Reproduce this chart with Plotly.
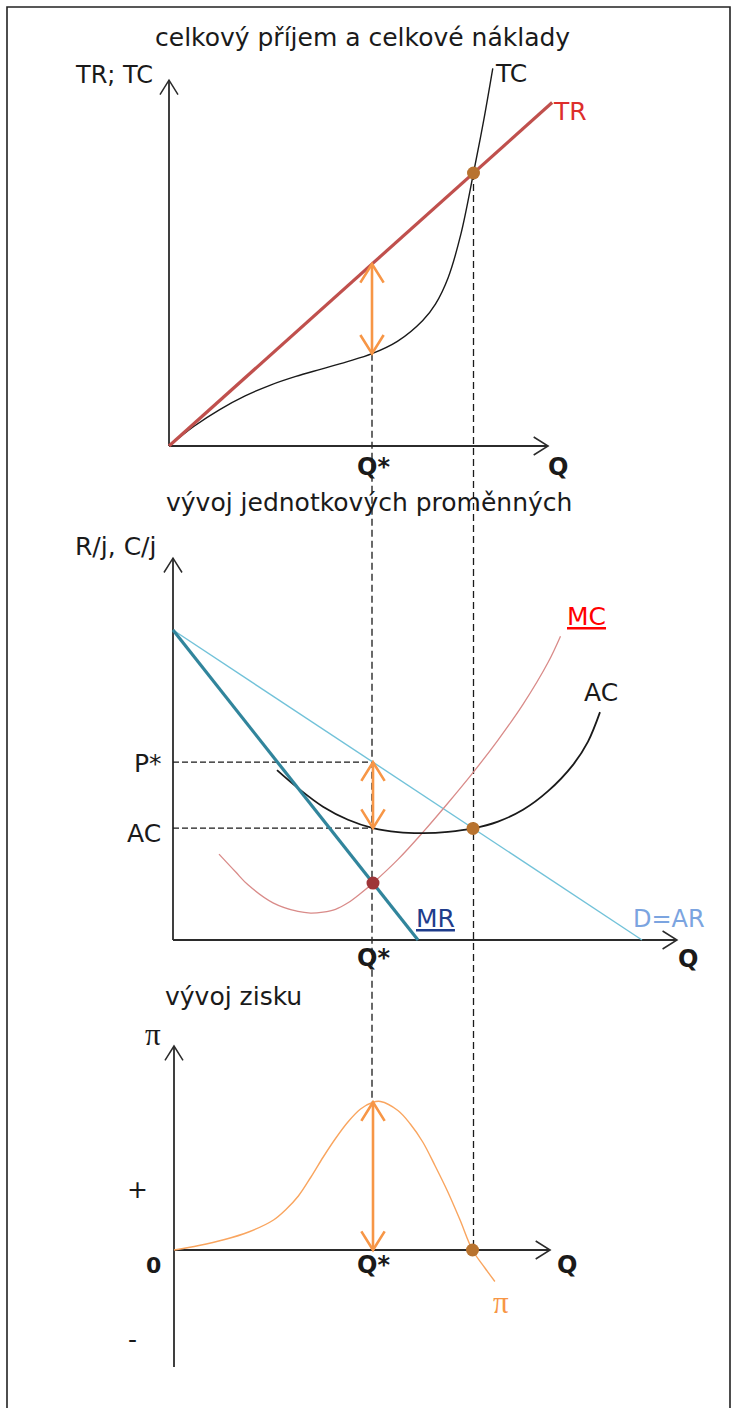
import math
import plotly.graph_objects as go

W, H = 731, 1408

# ---------------- data ----------------
# total revenue and total cost (upper panel)
q_tr = [0, 7.55]
tr = [0, 75.5]
q_tc = [0, 0.5, 1, 1.5, 2, 2.5, 3, 3.5, 4, 4.5, 5, 5.25, 5.5, 5.75, 6, 6.2, 6.38]
tc = [0, 4.4, 8.0, 11.0, 13.4, 15.3, 16.9, 18.5, 20.3, 23.0, 27.6, 31.2, 37.0, 46.5, 60, 71.5, 83]

# unit revenue / unit cost (middle panel)
q_d = [0, 9.38]
d_ar = [10, 0]
q_mr = [0, 4.9]
mr = [10, 0]
q_ac = [2.08, 2.5, 3, 3.5, 4, 4.5, 5, 5.5, 6, 6.5, 7, 7.5, 8, 8.3, 8.54]
ac = [5.48, 4.9, 4.3, 3.88, 3.61, 3.48, 3.45, 3.49, 3.60, 3.82, 4.2, 4.8, 5.65, 6.4, 7.35]
q_mc = [0.92, 1.25, 1.5, 2, 2.5, 2.75, 3, 3.25, 3.5, 3.75, 4, 4.5, 5, 5.5, 6, 6.5, 7, 7.5, 7.75]
mc = [2.77, 2.2, 1.78, 1.2, 0.92, 0.87, 0.9, 0.99, 1.2, 1.5, 1.84, 2.6, 3.48, 4.42, 5.4, 6.45, 7.6, 8.95, 9.8]

# profit (lower panel)
q_pi = [0, 0.5, 1, 1.5, 2, 2.25, 2.5, 2.75, 3, 3.25, 3.5, 3.75, 4, 4.15, 4.5, 4.75, 5, 5.25, 5.5, 5.75, 6, 6.25, 6.45]
pi = [0, 0.3, 0.68, 1.2, 2.0, 2.7, 3.6, 4.85, 6.2, 7.45, 8.55, 9.4, 9.85, 9.9, 9.3, 8.4, 7.2, 5.6, 3.9, 2.0, 0, -1.2, -2.1]

Q_STAR = 4      # profit-maximising output
Q_BE = 6        # break-even output


def interp(xs, ys, x):
    for i in range(len(xs) - 1):
        if xs[i] <= x <= xs[i + 1]:
            t = (x - xs[i]) / (xs[i + 1] - xs[i])
            return ys[i] + t * (ys[i + 1] - ys[i])
    return ys[-1]


tc_star = interp(q_tc, tc, Q_STAR)
tr_star = interp(q_tr, tr, Q_STAR)
tr_be = interp(q_tr, tr, Q_BE)
p_star = interp(q_d, d_ar, Q_STAR)
ac_star = interp(q_ac, ac, Q_STAR)
ac_be = interp(q_ac, ac, Q_BE)
mr_star = interp(q_mr, mr, Q_STAR)
pi_star = interp(q_pi, pi, Q_STAR)

# ---------------- panel geometry (origin in px, px per unit) ----------------
PANELS = {
    "top": dict(ox=169, oy=446, kx=50.75, ky=4.55, xa="x", ya="y"),
    "mid": dict(ox=173, oy=940, kx=50.0, ky=31.0, xa="x2", ya="y2"),
    "bot": dict(ox=174, oy=1250, kx=49.75, ky=15.0, xa="x3", ya="y3"),
}
for p in PANELS.values():
    p["xr"] = [-p["ox"] / p["kx"], (W - p["ox"]) / p["kx"]]
    p["yr"] = [-(H - p["oy"]) / p["ky"], p["oy"] / p["ky"]]


def paper_y(panel, v):
    p = PANELS[panel]
    lo, hi = p["yr"]
    return (v - lo) / (hi - lo)


fig = go.Figure()


def line(panel, xs, ys, color, width, shape="linear", dash=None):
    p = PANELS[panel]
    fig.add_trace(go.Scatter(
        x=xs, y=ys, mode="lines", xaxis=p["xa"], yaxis=p["ya"],
        line=dict(color=color, width=width, shape=shape, smoothing=1.0, dash=dash),
        hoverinfo="skip", showlegend=False))


def dot(panel, x, y, color, size=13):
    p = PANELS[panel]
    fig.add_trace(go.Scatter(
        x=[x], y=[y], mode="markers", xaxis=p["xa"], yaxis=p["ya"],
        marker=dict(color=color, size=size), hoverinfo="skip", showlegend=False))


def head(panel, x, y, direction, color, width, length, angle=32):
    """Open V arrowhead whose tip is at (x, y)."""
    p = PANELS[panel]
    a = math.radians(angle)
    along, across = length * math.cos(a), length * math.sin(a)
    if direction in ("up", "down"):
        s = -1 if direction == "up" else 1
        xs = [x - across / p["kx"], x, x + across / p["kx"]]
        ys = [y + s * along / p["ky"], y, y + s * along / p["ky"]]
    else:
        xs = [x - along / p["kx"], x, x - along / p["kx"]]
        ys = [y - across / p["ky"], y, y + across / p["ky"]]
    line(panel, xs, ys, color, width)


def axes(panel, x_end, y_end, y_start=0.0):
    line(panel, [0, 0], [y_start, y_end], AXIS, 1.8)
    line(panel, [0, x_end], [0, 0], AXIS, 1.8)
    head(panel, 0, y_end, "up", AXIS, 1.5, 17)
    head(panel, x_end, 0, "right", AXIS, 1.5, 17)


def double_arrow(panel, x, y_low, y_high):
    line(panel, [x, x], [y_low, y_high], ORANGE, 2.6)
    head(panel, x, y_high, "up", ORANGE, 2.6, 22)
    head(panel, x, y_low, "down", ORANGE, 2.6, 22)


AXIS = "#2b2b2b"
ORANGE = "#F79646"
BROWN = "#B8732F"

# ---------------- upper panel ----------------
axes("top", 7.47, 80.4)
line("top", q_tc, tc, "#1a1a1a", 1.4, shape="spline")
line("top", q_tr, tr, "#C0504D", 3.2)
double_arrow("top", Q_STAR, tc_star, tr_star)
dot("top", Q_BE, tr_be, BROWN)

# ---------------- middle panel ----------------
axes("mid", 10.08, 12.32)
line("mid", [0, Q_STAR], [p_star, p_star], "#1a1a1a", 1.3, dash="6px,3px")
line("mid", [0, Q_STAR], [ac_star, ac_star], "#1a1a1a", 1.3, dash="6px,3px")
line("mid", q_d, d_ar, "#72C2D9", 1.4)
line("mid", q_mc, mc, "#D98B89", 1.3, shape="spline")
line("mid", q_ac, ac, "#1a1a1a", 1.8, shape="spline")
line("mid", q_mr, mr, "#31859C", 3.2)
double_arrow("mid", Q_STAR, ac_star, p_star)
dot("mid", Q_BE, ac_be, BROWN)
dot("mid", Q_STAR, mr_star, "#9E3538")

# ---------------- lower panel ----------------
axes("bot", 7.56, 13.6, y_start=-7.8)
line("bot", q_pi, pi, "#F9A55F", 1.4, shape="spline")
double_arrow("bot", Q_STAR, 0, pi_star)
dot("bot", Q_BE, 0, BROWN)

# ---------------- dashed connectors through the three panels ----------------
shapes = [
    dict(type="line", xref="x", yref="paper", x0=Q_STAR, x1=Q_STAR,
         y0=paper_y("top", tc_star), y1=paper_y("bot", pi_star),
         line=dict(color="#1a1a1a", width=1.3, dash="7px,4px"), layer="below"),
    dict(type="line", xref="x", yref="paper", x0=Q_BE, x1=Q_BE,
         y0=paper_y("top", tr_be), y1=paper_y("bot", 0),
         line=dict(color="#1a1a1a", width=1.3, dash="7px,4px"), layer="below"),
    dict(type="rect", xref="paper", yref="paper", x0=7 / W, x1=730 / W,
         y0=-0.01, y1=1 - 7 / H, line=dict(color="#222222", width=1.6)),
]

# ---------------- text ----------------
FONT = "DejaVu Sans"
annotations = []


def text(s, x, y, size=25, color="#1a1a1a", anchor="center", bold=False, family=FONT):
    if bold:
        s = "<b>" + s + "</b>"
    annotations.append(dict(
        text=s, x=x / W, y=1 - y / H, xref="paper", yref="paper",
        xanchor=anchor, yanchor="middle", showarrow=False,
        font=dict(family=family, size=size, color=color)))


text("celkový příjem a celkové náklady", 362, 38)
text("TR; TC", 155, 75, size=24, anchor="right")
text("TC", 493, 73, anchor="left")
text("TR", 551, 111, color="#DD2E2B", anchor="left")
text("Q*", 373, 467, size=24, bold=True)
text("Q", 558, 467, size=24, bold=True)

text("vývoj jednotkových proměnných", 369, 503)
text("R/j, C/j", 158, 547, anchor="right")
text("P*", 164, 763, anchor="right")
text("AC", 163, 833, anchor="right")
text("<u>MC</u>", 565, 616, color="#FF0000", anchor="left")
text("AC", 582, 692, anchor="left")
text("<u>MR</u>", 414, 918, color="#1F3D8C", anchor="left")
text("D=AR", 631, 919, size=24, color="#7BA4E0", anchor="left")
text("Q*", 373, 958, size=24, bold=True)
text("Q", 688, 959, size=24, bold=True)

text("vývoj zisku", 163, 996, anchor="left")
text("π", 153, 1034, size=31, family="Liberation Serif")
text("+", 137, 1189, size=25)
text("-", 132, 1339, size=25)
text("0", 153, 1265, size=22, bold=True)
text("Q*", 373, 1265, size=24, bold=True)
text("Q", 567, 1265, size=24, bold=True)
text("π", 501, 1302, size=31, color="#F79646", family="Liberation Serif")

layout_axes = {}
for i, (name, p) in enumerate(PANELS.items()):
    sfx = "" if i == 0 else str(i + 1)
    xa = dict(range=p["xr"], visible=False, fixedrange=True, domain=[0, 1])
    ya = dict(range=p["yr"], visible=False, fixedrange=True, domain=[0, 1])
    if i > 0:
        xa["overlaying"] = "x"
        ya["overlaying"] = "y"
        xa["anchor"] = "y" + sfx
        ya["anchor"] = "x" + sfx
    layout_axes["xaxis" + sfx] = xa
    layout_axes["yaxis" + sfx] = ya

fig.update_layout(
    width=W, height=H, margin=dict(l=0, r=0, t=0, b=0),
    paper_bgcolor="white", plot_bgcolor="rgba(0,0,0,0)",
    shapes=shapes, annotations=annotations, showlegend=False,
    **layout_axes)

fig.write_html("out.html", config={"displayModeBar": False})
